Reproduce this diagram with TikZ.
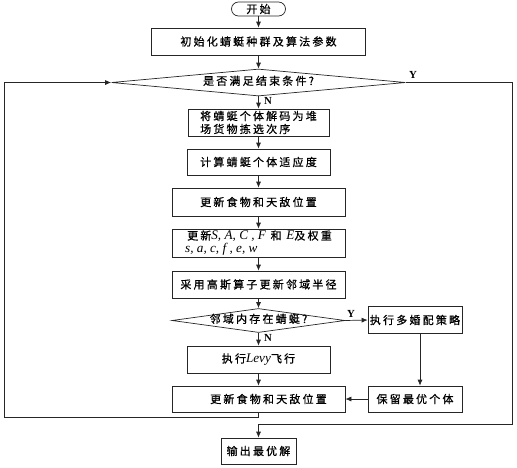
\documentclass[tikz,border=0pt]{standalone}
\usepackage{fontspec}
\setmainfont{Noto Sans CJK SC}[LetterSpace=20,FakeBold=0.8]
\newfontfamily\tms{Liberation Serif}[Scale=1.2]
\usetikzlibrary{arrows.meta,shapes.geometric}
\begin{document}
\begin{tikzpicture}[x=1pt,y=-1pt,
  line width=0.7pt, draw=black!85,
  every node/.style={font=\fontsize{11}{13}\selectfont},
  box/.style={draw=black!85, rectangle, inner sep=0pt, align=center},
  dec/.style={draw=black!85, diamond, inner sep=0pt, text height=6pt, text depth=1pt},
  term/.style={draw=black!85, rectangle, rounded corners=7pt, inner sep=0pt},
  arr/.style={-{Latex[length=6pt,width=5pt]}},
  lbl/.style={font=\fontsize{9}{9}\selectfont\tms\bfseries, inner sep=0pt}
]
\useasboundingbox (0,0) rectangle (517,467);

\node[term, minimum width=54pt, minimum height=14pt] (start) at (258.5,9) {开始};
\node[box, minimum width=214pt, minimum height=27pt] (init) at (258.5,41.5) {初始化蜻蜓种群及算法参数};
\node[dec, aspect=10.9, minimum width=294pt, minimum height=27pt] (dec1) at (258.5,82.5) {是否满足结束条件?};
\node[box, minimum width=141pt, minimum height=27pt, align=left] (decode) at (258.5,122.5) {将蜻蜓个体解码为堆\\场货物拣选次序};
\node[box, minimum width=143pt, minimum height=26pt] (fit) at (258.5,162) {计算蜻蜓个体适应度};
\node[box, minimum width=173pt, minimum height=28pt] (upd1) at (258.5,202) {更新食物和天敌位置};
\node[box, minimum width=173pt, minimum height=28pt, align=left] (upds) at (258.5,243) {\hspace*{2pt}更新{\tms\itshape S, A, C , F} 和 {\tms\itshape E}及权重\\{\tms\itshape s, a, c, f , e, w}};
\node[box, minimum width=173pt, minimum height=27pt] (gauss) at (258.5,284.5) {采用高斯算子更新邻域半径};
\node[dec, aspect=7.2, minimum width=173pt, minimum height=24pt] (dec2) at (258.5,320.5) {邻域内存在蜻蜓?};
\node[box, minimum width=94pt, minimum height=27pt] (multi) at (415,320) {执行多婚配策略};
\node[box, minimum width=143pt, minimum height=27pt] (levy) at (258.5,359.5) {执行{\tms\itshape Levy}飞行};
\node[box, minimum width=173pt, minimum height=26pt] (upd2) at (258.5,399) {\hspace*{20pt}更新食物和天敌位置};
\node[box, minimum width=94pt, minimum height=26pt] (keep) at (415,399) {保留最优个体};
\node[box, minimum width=75pt, minimum height=26pt] (out) at (258.5,451) {输出最优解};

\coordinate (lb) at (4,417);
\coordinate (rb) at (512,424);

\draw[arr] (start) -- (init);
\draw[arr] (init) -- (dec1);
\draw[arr] (dec1) -- (decode);
\draw[arr] (decode) -- (fit);
\draw[arr] (fit) -- (upd1);
\draw[arr] (upd1) -- (upds);
\draw[arr] (upds) -- (gauss);
\draw[arr] (gauss) -- (dec2);
\draw[arr] (dec2.east) -- (multi.west);
\draw[arr] (dec2) -- (levy);
\draw[arr] (levy) -- (upd2);
\draw[arr] ([xshift=5pt]multi.south) -- ([xshift=5pt]keep.north);
\draw[arr] (keep) -- (upd2);
\draw[arr] (upd2.south) |- (lb) |- (dec1.west);
\draw[arr] (dec1.east) -| (rb) -| (out.north);

\node[lbl] (y1) at (413,75) {Y};
\node[lbl] (n1) at (268,101) {N};
\node[lbl] (y2) at (351,314) {Y};
\node[lbl] (n2) at (268,338) {N};
\end{tikzpicture}
\end{document}
